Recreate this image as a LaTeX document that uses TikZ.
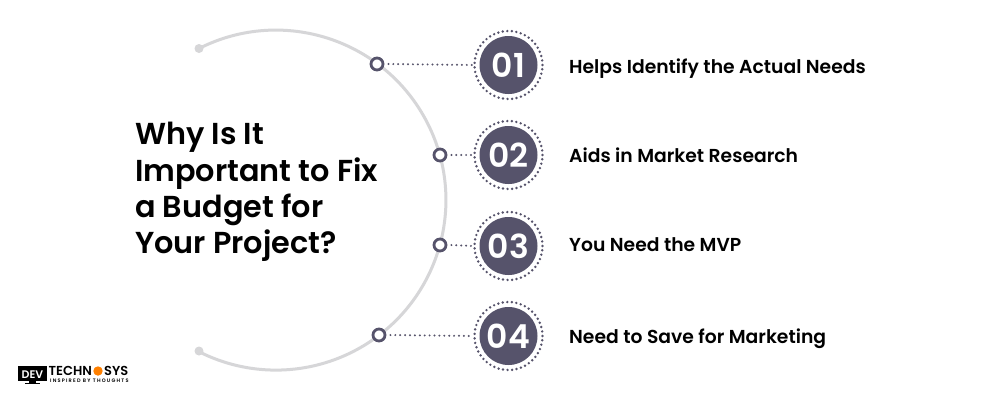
\documentclass[tikz,border=0pt]{standalone}
\usepackage{fontspec}
\setmainfont{Poppins}[BoldFont={* SemiBold},UprightFont={* Medium}]
\definecolor{slate}{HTML}{56536B}
\definecolor{arcgrey}{HTML}{D6D6D8}
\begin{document}
\begin{tikzpicture}[x=1pt,y=-1pt,
  numdisc/.style={circle,fill=slate,text=white,minimum size=58pt,inner sep=0pt,font=\fontsize{33}{33}\selectfont\bfseries},
  halo/.style={circle,draw=slate,line width=2.7pt,dash pattern=on 0pt off 4.55pt,line cap=round,minimum size=68pt,inner sep=0pt},
  ringnode/.style={circle,draw=slate,fill=white,line width=2.8pt,minimum size=12pt,inner sep=0pt},
  linkline/.style={draw=slate,line width=2.2pt,dash pattern=on 0pt off 4.9pt,line cap=round},
  itemlabel/.style={anchor=base west,inner sep=0pt,font=\fontsize{18.75}{18.75}\selectfont\bfseries},
  titleline/.style={anchor=base west,inner sep=0pt,font=\fontsize{30.3}{30.3}\selectfont\bfseries},
  enddot/.style={circle,fill=arcgrey,minimum size=9pt,inner sep=0pt}]
\useasboundingbox (0,0) rectangle (1000,400);
\fill[white] (0,0) rectangle (1000,400);
% arc
\node[enddot] (top) at (199,48.5) {};
\node[enddot] (bot) at (199,351) {};
\draw[arcgrey,line width=3pt] (top.center) arc[start angle=-116.9,end angle=116.9,radius=170];
% discs
\foreach \n/\lbl/\y in {a/01/65,b/02/155,c/03/246,d/04/336}{
  \node[halo] (h\n) at (508.5,\y) {};
  \node[numdisc] (n\n) at (508.5,\y) {\lbl};
}
\node[ringnode] (ra) at (377,64) {};
\node[ringnode] (rb) at (440,155) {};
\node[ringnode] (rc) at (440,245) {};
\node[ringnode] (rd) at (379,335) {};
\foreach \n in {a,b,c,d}{
  \draw[linkline] (r\n.east) ++(4,0) -- (h\n.west);
}
% labels
\node[itemlabel] (la) at (569,73) {Helps Identify the Actual Needs};
\node[itemlabel] (lb) at (569,162) {Aids in Market Research};
\node[itemlabel] (lc) at (569,251) {You Need the MVP};
\node[itemlabel] (ld) at (569,343) {Need to Save for Marketing};
% title
\node[titleline] (t1) at (135,144) {Why Is It};
\node[titleline] (t2) at (135,181) {Important to Fix};
\node[titleline] (t3) at (135,217) {a Budget for};
\node[titleline] (t4) at (135,253) {Your Project?};
% logo
\fill[black] (18,366) rectangle (47,381);
\fill[black] (29,381) rectangle (36,383);
\fill[black] (25,383) rectangle (40,384);
\node[anchor=base,text=white,inner sep=0pt,font=\fontsize{11}{11}\selectfont\bfseries] (logoa) at (32.5,378) {DEV};
\node[anchor=base west,inner sep=0pt,font=\fontsize{13}{13}\selectfont\bfseries] (logob) at (48.5,375.5) {TECHN};
\fill[orange] (98,371) circle (4.7);
\node[anchor=base west,inner sep=0pt,font=\fontsize{13}{13}\selectfont\bfseries] (logoc) at (104,375.5) {SYS};
\node[anchor=base west,inner sep=0pt,font=\fontsize{5}{5}\selectfont\bfseries\addfontfeature{LetterSpace=24}] (logod) at (50,382.5) {INSPIRED BY THOUGHTS};
\end{tikzpicture}
\end{document}
